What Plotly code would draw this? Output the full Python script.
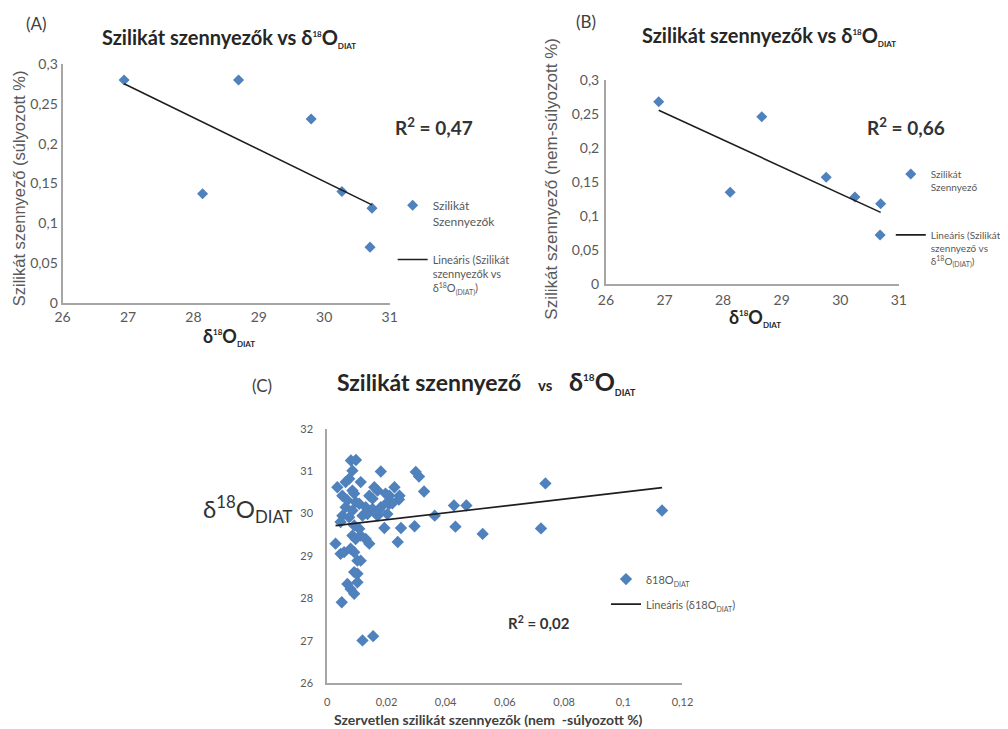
import numpy as np
import plotly.graph_objects as go

# ---------------- data ----------------
# Panel A: delta18O_DIAT vs silicate contamination (weighted %)
a_d18o = [26.94, 28.69, 29.80, 28.14, 30.27, 30.73, 30.70]
a_sil = [0.280, 0.280, 0.231, 0.137, 0.140, 0.119, 0.070]
a_r2 = "0,47"

# Panel B: delta18O_DIAT vs silicate contamination (non-weighted %)
b_d18o = [26.90, 28.66, 28.12, 29.76, 30.25, 30.69, 30.68]
b_sil = [0.268, 0.246, 0.135, 0.157, 0.128, 0.118, 0.072]
b_r2 = "0,66"

# Panel C: inorganic silicate contamination (non-weighted %) vs delta18O_DIAT
c_sil = [0.0080, 0.0097, 0.0085, 0.0181, 0.0299, 0.0310, 0.0327,
         0.0074, 0.0062, 0.0034, 0.0113, 0.0159, 0.0170, 0.0227,
         0.0085, 0.0091, 0.0142, 0.0153, 0.0210, 0.0204, 0.0244,
         0.0051, 0.0068, 0.0096, 0.0108, 0.0062, 0.0085, 0.0130,
         0.0153, 0.0181, 0.0210, 0.0051, 0.0074, 0.0119, 0.0136,
         0.0170, 0.0045, 0.0091, 0.0108, 0.0193, 0.0249, 0.0295,
         0.0363, 0.0428, 0.0470, 0.0433, 0.0525, 0.0722, 0.0737, 0.1131,
         0.0028, 0.0045, 0.0057, 0.0085, 0.0096, 0.0113, 0.0130, 0.0142,
         0.0079, 0.0091, 0.0102, 0.0113, 0.0091, 0.0102, 0.0102,
         0.0068, 0.0079, 0.0091, 0.0049, 0.0119, 0.0155, 0.0238,
         0.0197, 0.0242, 0.0220, 0.0203, 0.0175]
c_d18o = [31.25, 31.26, 31.01, 30.99, 30.98, 30.87, 30.52,
          30.82, 30.74, 30.62, 30.74, 30.62, 30.54, 30.62,
          30.54, 30.47, 30.42, 30.35, 30.42, 30.27, 30.42,
          30.42, 30.31, 30.27, 30.23, 30.15, 30.07, 30.15,
          30.11, 30.15, 30.23, 29.95, 29.91, 29.95, 29.99,
          29.95, 29.80, 29.72, 29.64, 29.66, 29.66, 29.70,
          29.95, 30.19, 30.19, 29.69, 29.52, 29.65, 30.71, 30.07,
          29.29, 29.05, 29.09, 29.48, 29.40, 29.48, 29.40, 29.29,
          29.17, 29.09, 28.89, 28.89, 28.62, 28.58, 28.38,
          28.34, 28.22, 28.11, 27.91, 27.01, 27.11, 29.33,
          30.47, 30.33, 30.24, 29.99, 30.08]
c_r2 = "0,02"

# ---------------- style ----------------
W, H = 1008, 729
BLUE = "#4F81BD"
TREND = "#1e1e1e"
AXIS = "#a6a6a6"
TICK = "#595959"
FONT = "Lato"

# page-to-figure correction (page offset / scaling seen in the rendered snapshot)
OX, SX = 15.7, 0.975
OY, SY = 15.8, 0.978


def px(x):
    return ((x - OX) / SX) / W


def py(y):
    return 1 - ((y - OY) / SY) / H


def trend(x, y):
    k, b = np.polyfit(np.asarray(x, float), np.asarray(y, float), 1)
    xs = np.array([min(x), max(x)])
    return xs, k * xs + b


fig = go.Figure()

SUB = '<sub><span style="font-size:{s}px">{t}</span></sub>'
SUP = '<sup><span style="font-size:{s}px">{t}</span></sup>'


def d18o(s_sup, s_sub, paren=False):
    t = "(DIAT)" if paren else "DIAT"
    return "δ" + SUP.format(s=s_sup, t="18") + "O" + SUB.format(s=s_sub, t=t)


# Panel A
fig.add_trace(go.Scatter(x=a_d18o, y=a_sil, mode="markers", xaxis="x", yaxis="y",
                         marker=dict(symbol="diamond", size=8.5, color=BLUE),
                         name="Szilikát<br>Szennyezők", legend="legend", showlegend=True))
tx, ty = trend(a_d18o, a_sil)
fig.add_trace(go.Scatter(x=tx, y=ty, mode="lines", xaxis="x", yaxis="y",
                         line=dict(color=TREND, width=1.6),
                         name="Lineáris (Szilikát<br>szennyezők vs<br>" + d18o(7, 7, True) + ")",
                         legend="legend2", showlegend=True))

# Panel B
fig.add_trace(go.Scatter(x=b_d18o, y=b_sil, mode="markers", xaxis="x2", yaxis="y2",
                         marker=dict(symbol="diamond", size=8.5, color=BLUE),
                         name="Szilikát<br>Szennyező", legend="legend3", showlegend=True))
tx, ty = trend(b_d18o, b_sil)
fig.add_trace(go.Scatter(x=tx, y=ty, mode="lines", xaxis="x2", yaxis="y2",
                         line=dict(color=TREND, width=1.6),
                         name="Lineáris (Szilikát<br>szennyező vs<br>" + d18o(7, 7, True) + ")",
                         legend="legend4", showlegend=True))

# Panel C
fig.add_trace(go.Scatter(x=c_sil, y=c_d18o, mode="markers", xaxis="x3", yaxis="y3",
                         marker=dict(symbol="diamond", size=9.5, color=BLUE),
                         name="δ18O" + SUB.format(s=7, t="DIAT"), legend="legend5", showlegend=True))
tx, ty = trend(c_sil, c_d18o)
fig.add_trace(go.Scatter(x=tx, y=ty, mode="lines", xaxis="x3", yaxis="y3",
                         line=dict(color=TREND, width=1.6),
                         name="Lineáris (δ18O" + SUB.format(s=7, t="DIAT") + ")",
                         legend="legend6", showlegend=True))

axis_common = dict(showline=True, linecolor=AXIS, linewidth=2, showgrid=False,
                   zeroline=False, ticks="", fixedrange=True)

fig.update_layout(
    width=W, height=H, margin=dict(l=0, r=0, t=0, b=0),
    paper_bgcolor="white", plot_bgcolor="white",
    separators=", ", showlegend=True,
    font=dict(family=FONT, color=TICK),
    xaxis=dict(domain=[px(62), px(387)], range=[26, 31], dtick=1, anchor="y",
               ticklabelstandoff=0, tickfont=dict(size=14, color=TICK), **axis_common),
    yaxis=dict(domain=[py(302), py(63)], range=[0, 0.3], dtick=0.05, anchor="x",
               ticklabelstandoff=0, tickfont=dict(size=14, color=TICK), **axis_common),
    xaxis2=dict(domain=[px(602), px(893)], range=[26, 31], dtick=1, anchor="y2",
                ticklabelstandoff=2, tickfont=dict(size=14, color=TICK), **axis_common),
    yaxis2=dict(domain=[py(283), py(79)], range=[0, 0.3], dtick=0.05, anchor="x2",
                ticklabelstandoff=2, tickfont=dict(size=14, color=TICK), **axis_common),
    xaxis3=dict(domain=[px(325), px(678)], range=[0, 0.12], dtick=0.02, anchor="y3",
                ticklabelstandoff=8, tickfont=dict(size=11, color=TICK), **axis_common),
    yaxis3=dict(domain=[py(683), py(428)], range=[26, 32], dtick=1, anchor="x3",
                ticklabelstandoff=10, tickfont=dict(size=11, color=TICK), **axis_common),
)

leg_common = dict(xanchor="left", yanchor="top", bgcolor="rgba(0,0,0,0)",
                  valign="top", itemwidth=30, borderwidth=0, visible=True)
f12 = dict(size=12, color=TICK, family=FONT)
f11 = dict(size=11, color=TICK, family=FONT)
fB = dict(size=10, color=TICK, family=FONT)
fig.update_layout(
    legend=dict(x=px(390), y=py(190), font=f12, **leg_common),
    legend2=dict(x=px(390), y=py(245), font=f11, **leg_common),
    legend3=dict(x=px(885), y=py(160), font=fB, **leg_common),
    legend4=dict(x=px(885), y=py(221), font=fB, **leg_common),
    legend5=dict(x=px(602), y=py(565), font=f11, **leg_common),
    legend6=dict(x=px(602), y=py(590), font=f11, **leg_common),
)

DARK = "#262626"
ann = []


def add(text, x, y, size, color=DARK, bold=False, family=FONT, angle=0, xanchor="center"):
    t = "<b>" + text + "</b>" if bold else text
    ann.append(dict(text=t, x=px(x), y=py(y), xref="paper", yref="paper",
                    xanchor=xanchor, yanchor="middle", showarrow=False,
                    textangle=angle, font=dict(size=size, color=color, family=family)))


# Panel labels
add("(A)", 36, 22, 17, color="#404040")
add("(B)", 582, 20, 17, color="#404040")
add("(C)", 260, 385, 17, color="#404040")

# Titles
add("Szilikát szennyezők vs " + d18o(8, 8), 227, 37, 20, bold=True)
add("Szilikát szennyezők vs " + d18o(8, 8), 764, 35, 20, bold=True)
add("Szilikát szennyező\u00a0\u00a0\u00a0<span style=\"font-size:15px\">vs</span>\u00a0\u00a0\u00a0"
    + "<span style=\"font-size:25px\">" + d18o(10, 9) + "</span>", 483, 381, 23, bold=True)

# Axis titles
add(d18o(8, 8), 227, 336, 18, bold=True)
add(d18o(8, 8), 750, 317, 18, bold=True)
add("Szilikát szennyező (súlyozott %)", 19, 187, 16.5, color=TICK,
    family="Liberation Sans", angle=-90)
add("Szilikát szennyező (nem-súlyozott %)", 548, 178, 17, color=TICK,
    family="Liberation Sans", angle=-90)
add("δ<sup>18</sup>O<sub>DIAT</sub>", 246, 508, 24, color="#333333")
add("Szervetlen szilikát szennyezők (nem \u00a0-súlyozott %)", 485, 719, 14,
    bold=True, color="#404040")

# R² labels
add("R<sup>2</sup> = " + a_r2, 431, 125, 19, bold=True, color="#333333")
add("R<sup>2</sup> = " + b_r2, 900, 125, 19, bold=True, color="#333333")
add("R<sup>2</sup> = " + c_r2, 535, 622, 15, bold=True, color="#333333")

fig.update_layout(annotations=ann)

fig.write_html("out.html", config={"displayModeBar": False})
